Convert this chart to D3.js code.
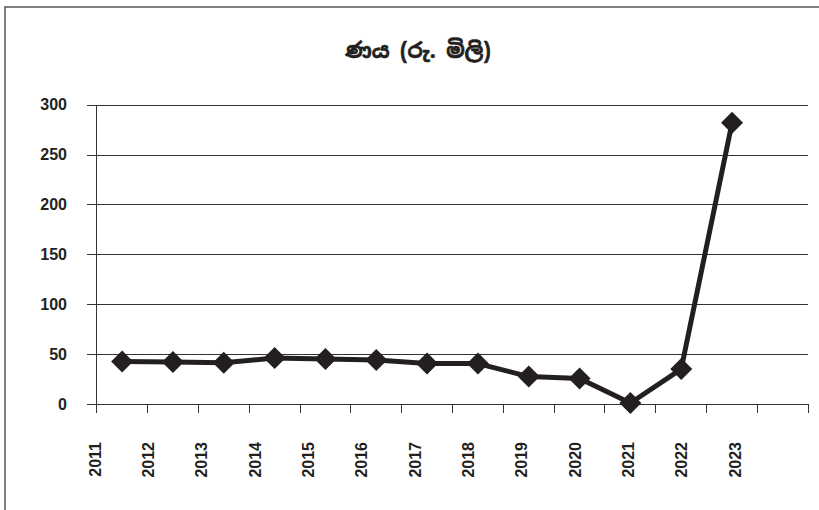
<!DOCTYPE html>
<html>
<head>
<meta charset="utf-8">
<script src="https://cdn.jsdelivr.net/npm/d3@7"></script>
<style>
  body { margin: 0; background: #fff; }
  text { font-family: "Liberation Sans", Arial, sans-serif; font-weight: bold; fill: #231f20; }
</style>
</head>
<body>
<svg id="drawing_region"></svg>
<script>
// data
const years = ["2011","2012","2013","2014","2015","2016","2017","2018","2019","2020","2021","2022","2023"];
const loans = [42.5, 42, 41.3, 46, 45, 44, 40.5, 40.5, 27.5, 25.5, 1, 35, 282];
const yticks = [0, 50, 100, 150, 200, 250, 300];
const title = "ණය (රු. මිලි)";

const config = {
    width: 819,
    height: 510,
    left: 96.7, right: 808.3,
    top: 104.7, bottom: 404
};

const svg = d3.select('#drawing_region')
    .attr('width', config.width)
    .attr('height', config.height);

// outer frame (top and left edges only, as in the picture)
svg.append('path')
    .attr('d', `M5,${config.height} L5,7 L${config.width},7`)
    .attr('fill', 'none')
    .attr('stroke', '#555')
    .attr('stroke-width', 1.5);

svg.append('text')
    .attr('x', 418)
    .attr('y', 58)
    .attr('text-anchor', 'middle')
    .style('font-family', '"Noto Sans Sinhala", "Iskoola Pota", "Noto Sans", sans-serif')
    .style('font-size', '21px')
    .style('stroke', '#231f20')
    .style('stroke-width', 0.6)
    .text(title);

// 14 categories: the last one is empty
const slots = d3.range(years.length + 1);
const xscale = d3.scaleBand()
    .domain(slots)
    .range([config.left, config.right]);

const labelscale = d3.scalePoint()
    .domain(years)
    .range([95, 735]);

const yscale = d3.scaleLinear()
    .domain([0, 300])
    .range([config.bottom, config.top]);

// gridlines + y ticks
const ygrid = d3.axisLeft(yscale)
    .tickValues(yticks)
    .tickSize(-(config.right - config.left))
    .tickFormat('');
svg.append('g')
    .attr('transform', `translate(${config.left},0)`)
    .call(ygrid)
    .call(g => g.select('.domain').remove())
    .call(g => g.selectAll('line').attr('stroke', '#333').attr('shape-rendering', 'crispEdges')
        .attr('x1', -10));

svg.append('g')
    .selectAll('text')
    .data(yticks)
    .join('text')
    .attr('x', 67)
    .attr('y', d => yscale(d))
    .attr('dy', '0.36em')
    .attr('text-anchor', 'end')
    .style('font-size', '16px')
    .text(d => d);

// y axis line
svg.append('line')
    .attr('x1', config.left).attr('x2', config.left)
    .attr('y1', config.top).attr('y2', config.bottom)
    .attr('stroke', '#333')
    .attr('shape-rendering', 'crispEdges');

// x axis with ticks at category boundaries
const boundaries = slots.map(d => xscale(d)).concat([config.right]);
svg.append('g')
    .selectAll('line')
    .data(boundaries)
    .join('line')
    .attr('x1', d => d).attr('x2', d => d)
    .attr('y1', config.bottom).attr('y2', config.bottom + 9)
    .attr('stroke', '#333')
    .attr('shape-rendering', 'crispEdges');

svg.append('g')
    .selectAll('text')
    .data(years)
    .join('text')
    .attr('transform', d => `translate(${labelscale(d)},442) rotate(-90)`)
    .attr('dy', '0.36em')
    .attr('text-anchor', 'end')
    .style('font-size', '16px')
    .text(d => d);

// line + diamond markers
const points = loans.map((v, i) => [xscale(i) + xscale.bandwidth() / 2, yscale(v)]);

svg.append('path')
    .datum(points)
    .attr('d', d3.line())
    .attr('fill', 'none')
    .attr('stroke', '#231f20')
    .attr('stroke-width', 5)
    .attr('stroke-linejoin', 'round');

const diamond = d3.symbol().type(d3.symbolSquare).size(242);
svg.append('g')
    .selectAll('path')
    .data(points)
    .join('path')
    .attr('transform', d => `translate(${d[0]},${d[1]}) rotate(45)`)
    .attr('d', diamond)
    .attr('fill', '#231f20');
</script>
</body>
</html>
